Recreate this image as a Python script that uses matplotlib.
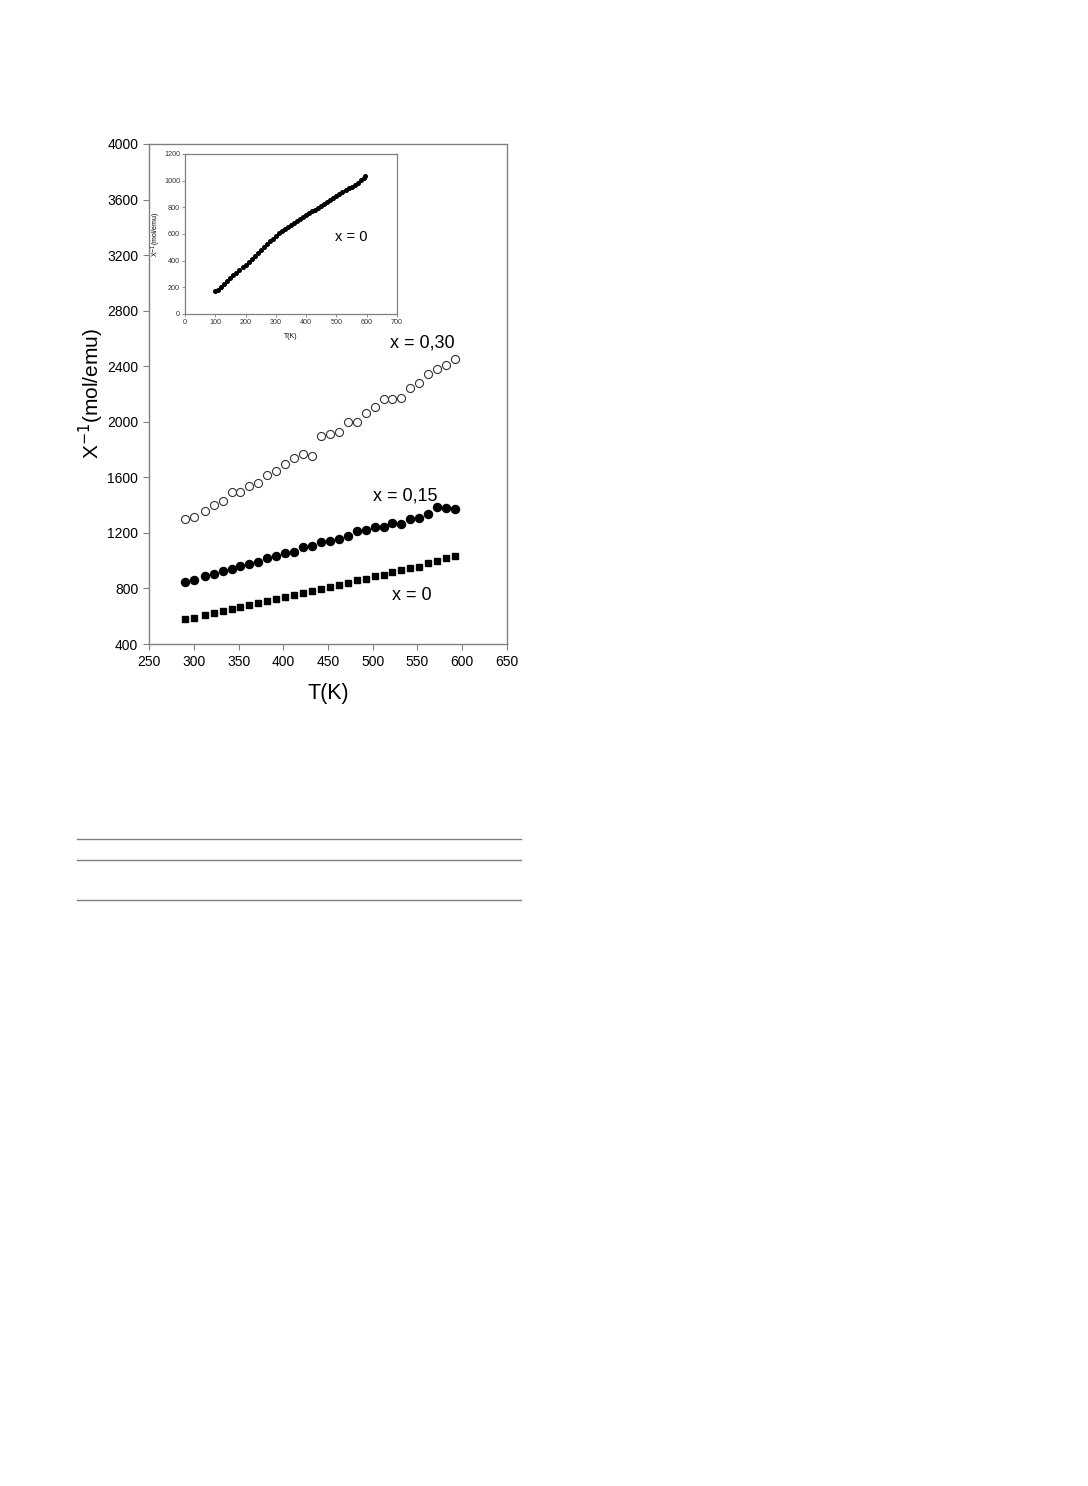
import matplotlib
matplotlib.use('Agg')
import matplotlib.pyplot as plt
from matplotlib.lines import Line2D

plt.rcParams['font.family'] = ['Liberation Sans', 'DejaVu Sans']

# temperatures (K), shared by the three main series
T = [290, 300, 312, 322, 332, 342, 352, 362, 372, 382, 392, 402, 412, 422, 432, 442,
     452, 462, 472, 482, 492, 502, 512, 522, 532, 542, 552, 562, 572, 582, 592]

# x = 0 (filled squares)
chi_x0 = [578, 589, 607, 621, 635, 650, 666, 681, 695, 710, 724, 738, 753, 767, 784, 796,
          813, 827, 842, 859, 868, 890, 897, 918, 935, 949, 957, 981, 1000, 1017, 1034]

# x = 0,15 (filled circles)
chi_x15 = [844, 863, 890, 906, 926, 940, 959, 978, 993, 1019, 1034, 1058, 1065, 1098, 1108, 1137,
           1142, 1154, 1180, 1214, 1218, 1240, 1245, 1271, 1262, 1302, 1305, 1338, 1389, 1377, 1372]

# x = 0,30 (open circles)
chi_x30 = [1300, 1314, 1360, 1403, 1432, 1492, 1492, 1540, 1557, 1617, 1643, 1694, 1742, 1770, 1756, 1895,
           1912, 1926, 1996, 1996, 2061, 2104, 2162, 2162, 2173, 2241, 2279, 2346, 2378, 2406, 2452]

# inset: x = 0 over the wide temperature range
T_inset = [100, 110, 120, 130, 140, 150, 160, 170, 180, 190, 200, 210, 220, 230, 240, 250,
           260, 270, 280, 290, 300, 310, 320, 330, 340, 350, 360, 370, 380, 390, 400, 410,
           420, 430, 440, 450, 460, 470, 480, 490, 500, 510, 520, 530, 540, 550, 560, 570,
           580, 590, 595]
chi_inset = [172, 180, 200, 222, 245, 268, 290, 310, 330, 350, 370, 393, 415, 438, 460, 482,
             503, 524, 545, 562, 587, 605, 622, 638, 654, 670, 684, 698, 712, 726, 740, 754,
             769, 783, 797, 812, 826, 841, 856, 870, 885, 898, 912, 926, 941, 955, 970, 985,
             1003, 1020, 1035]

spine_col = '#808080'

fig = plt.figure(figsize=(10.88, 14.86), dpi=100)

#主图
ax = fig.add_axes([0.1372, 0.5666, 0.3287, 0.3365])
ax.plot(T, chi_x30, 'o', mfc='white', mec='#333333', ms=5.8, mew=0.8)
ax.plot(T, chi_x15, 'o', color='black', ms=5.8)
ax.plot(T, chi_x0, 's', color='black', ms=4.9)

ax.set_xlim(250, 650)
ax.set_ylim(400, 4000)
ax.set_xticks(range(250, 651, 50))
ax.set_yticks(range(400, 4001, 400))
ax.tick_params(direction='out', length=4, width=0.8, color=spine_col,
               labelsize=10, pad=4, right=False, top=False)
for s in ax.spines.values():
    s.set_color(spine_col)
    s.set_linewidth(1.0)

ax.set_xlabel('T(K)', fontsize=15.5, labelpad=10)
ax.set_ylabel('X$^{-1}$(mol/emu)', fontsize=15, labelpad=1)

ax.text(555, 2567, 'x = 0,30', fontsize=13, ha='center', va='center')
ax.text(536, 1466, 'x = 0,15', fontsize=13, ha='center', va='center')
ax.text(544, 753, 'x = 0', fontsize=13, ha='center', va='center')

#插图
ins = fig.add_axes([0.170, 0.7887, 0.1949, 0.1077])
ins.plot(T_inset, chi_inset, 'o', color='black', ms=2.6)
ins.set_xlim(0, 700)
ins.set_ylim(0, 1200)
ins.set_xticks(range(0, 701, 100))
ins.set_yticks(range(0, 1201, 200))
ins.tick_params(direction='out', length=2, width=0.6, color=spine_col,
                labelsize=5.2, labelcolor='#333333', pad=1.5, right=False, top=False)
for s in ins.spines.values():
    s.set_color(spine_col)
    s.set_linewidth(0.9)
ins.set_xlabel('T(K)', fontsize=5, labelpad=5)
ins.set_ylabel('X$^{-1}$(mol/emu)', fontsize=5, labelpad=0.5)
ins.text(549, 577, 'x = 0', fontsize=10.5, ha='center', va='center')

#页面横线
for yy in [839, 860, 900]:
    fig.add_artist(Line2D([77 / 1088, 521 / 1088], [1 - yy / 1486, 1 - yy / 1486],
                          color='#808080', lw=1.0))

fig.savefig('out.png', dpi=100)
